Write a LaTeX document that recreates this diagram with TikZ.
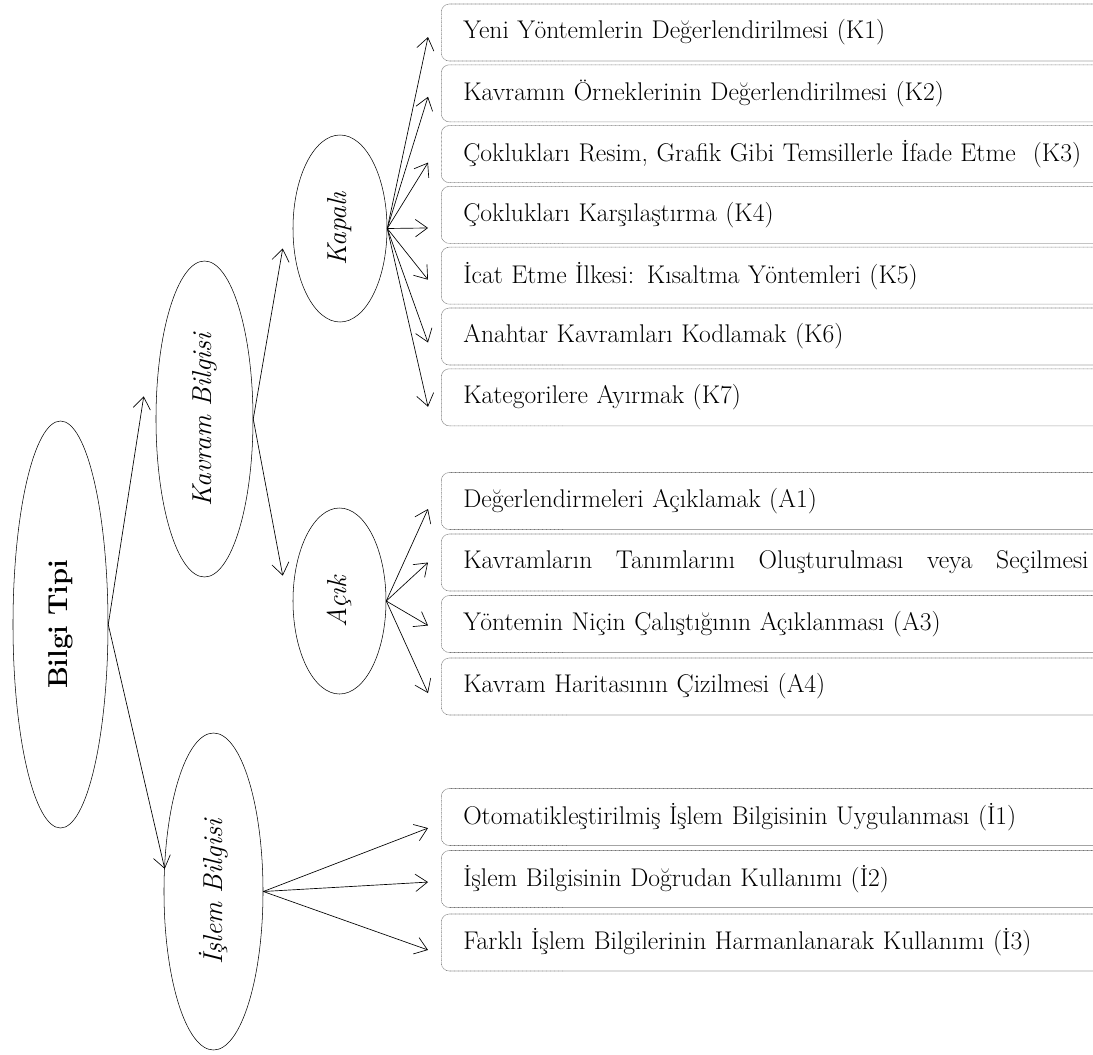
\documentclass[tikz,border=0pt]{standalone}
\usepackage{fontspec}
\usetikzlibrary{shapes.geometric,arrows.meta}
\tikzset{
  kutu/.style={draw=black!55,dash pattern=on 0.6pt off 0.4pt,rounded corners=6pt,anchor=west,minimum height=42.75pt,text width=469pt,inner xsep=16.5pt,align=left,font=\fontsize{19.2}{22}\selectfont},
  elips/.style={draw,ellipse,inner sep=0pt,font=\fontsize{20.5}{24}\selectfont},
  ok/.style={-{Straight Barb[length=9pt,width=13pt]},semithin}
}
\begin{document}
\begin{tikzpicture}[x=0.75pt,y=-0.75pt,semithin/.style={line width=0.5pt}]
\useasboundingbox(0,0)rectangle(1093,1054);
\clip(0,0)rectangle(1093,1054);
\pgfmathsetmacro{\kbox}{441}
% ellipses
\node[elips,minimum width=71.25pt,minimum height=305.25pt](bilgi) at (60.5,624.5){\rotatebox{90}{\textbf{Bilgi Tipi}}};
\node[elips,minimum width=72.75pt,minimum height=237pt](kavram) at (204.5,419){\rotatebox{90}{\textit{Kavram Bilgisi}}};
\node[elips,minimum width=70.5pt,minimum height=140.25pt](kapali) at (340,228.5){\rotatebox{90}{\textit{Kapalı}}};
\node[elips,minimum width=69.75pt,minimum height=139.5pt](acik) at (339.5,601){\rotatebox{90}{\textit{Açık}}};
\node[elips,minimum width=74.25pt,minimum height=237.75pt](islem) at (213.5,891.5){\rotatebox{90}{\textit{İşlem Bilgisi}}};
% boxes
\foreach \x/\y/\a in {1/32.5/{Yeni Yöntemlerin Değerlendirilmesi (K1)},2/93.3/{Kavramın Örneklerinin Değerlendirilmesi (K2)},3/154.1/{Çoklukları Resim, Grafik Gibi Temsillerle İfade Etme~ (K3)},4/214.9/{Çoklukları Karşılaştırma (K4)},5/275.7/{İcat Etme İlkesi: Kısaltma Yöntemleri (K5)},6/336.5/{Anahtar Kavramları Kodlamak (K6)},7/397.3/{Kategorilere Ayırmak (K7)}}{\node[kutu](k\x) at (\kbox,\y){\a};}
\foreach \x/\y/\a in {1/501/{Değerlendirmeleri Açıklamak (A1)},2/562.5/{\hbox to 469pt{Kavramların\hfill Tanımlarını\hfill Oluşturulması\hfill veya\hfill Seçilmesi}},3/624/{Yöntemin Niçin Çalıştığının Açıklanması (A3)},4/686.5/{Kavram Haritasının Çizilmesi (A4)}}{\node[kutu](a\x) at (\kbox,\y){\a};}
\foreach \x/\y/\a in {1/817/{Otomatikleştirilmiş İşlem Bilgisinin Uygulanması (İ1)},2/879/{İşlem Bilgisinin Doğrudan Kullanımı (İ2)},3/942.5/{Farklı İşlem Bilgilerinin Harmanlanarak Kullanımı (İ3)}}{\node[kutu](i\x) at (\kbox,\y){\a};}
% arrows
\draw[ok](bilgi.east)--([xshift=-9pt,yshift=17pt]kavram.west);
\draw[ok](bilgi.east)--([xshift=0.75pt,yshift=17pt]islem.west);
\draw[ok](kavram.east)--([xshift=-7.5pt,yshift=-15pt]kapali.west);
\draw[ok](kavram.east)--([xshift=-7.5pt,yshift=19pt]acik.west);
\foreach \x/\d in {1/3.4,2/2.6,3/6.4,4/9.8,5/3,6/4.5,7/7.1}{\draw[ok](kapali.east)--([xshift=-9.75pt,yshift=-\d pt]k\x.west);}
\foreach \x/\d in {1/6,2/0,3/1.1,4/4.9}{\draw[ok](acik.east)--([xshift=-9.75pt,yshift=-\d pt]a\x.west);}
\foreach \x/\d in {1/8.3,2/2.3,3/5.6}{\draw[ok](islem.east)--([xshift=-9.75pt,yshift=-\d pt]i\x.west);}
\end{tikzpicture}
\end{document}
